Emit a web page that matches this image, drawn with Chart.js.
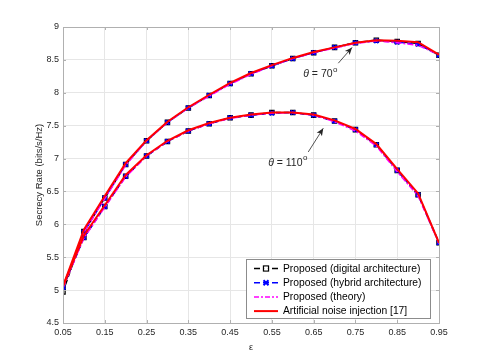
<!DOCTYPE html>
<html><head><meta charset="utf-8">
<script src="https://cdn.jsdelivr.net/npm/chart.js@4.4.1/dist/chart.umd.min.js"></script>
<style>html,body{margin:0;padding:0;background:#fff}#wrap{width:485px;height:363px}</style>
</head><body><div id="wrap"><canvas id="c" width="485" height="363"></canvas></div>
<script>
const epsilon = [0.05,0.10,0.15,0.20,0.25,0.30,0.35,0.40,0.45,0.50,0.55,0.60,0.65,0.70,0.75,0.80,0.85,0.90,0.95];
const xTicks = [0.05,0.15,0.25,0.35,0.45,0.55,0.65,0.75,0.85,0.95];
const xTickLabels = ['0.05','0.15','0.25','0.35','0.45','0.55','0.65','0.75','0.85','0.95'];
const yTicks = [4.5,5,5.5,6,6.5,7,7.5,8,8.5,9];
const yTickLabels = ['4.5','5','5.5','6','6.5','7','7.5','8','8.5','9'];
// theta = 70 deg
const digital70 = [4.97,5.89,6.40,6.91,7.27,7.55,7.77,7.96,8.14,8.29,8.41,8.52,8.61,8.69,8.76,8.80,8.78,8.75,8.57];
const hybrid70  = [5.04,5.88,6.40,6.91,7.27,7.55,7.77,7.96,8.14,8.29,8.41,8.52,8.61,8.69,8.76,8.79,8.77,8.74,8.57];
const theory70  = [5.04,5.88,6.39,6.90,7.27,7.55,7.77,7.95,8.13,8.28,8.41,8.52,8.61,8.68,8.75,8.79,8.76,8.72,8.58];
const an70      = [5.06,5.92,6.43,6.93,7.28,7.56,7.78,7.97,8.15,8.30,8.42,8.53,8.62,8.69,8.76,8.80,8.79,8.77,8.58];
// theta = 110 deg
const digital110 = [5.04,5.80,6.27,6.73,7.04,7.26,7.42,7.53,7.62,7.66,7.70,7.70,7.66,7.57,7.44,7.21,6.82,6.45,5.72];
const hybrid110  = [5.05,5.80,6.27,6.73,7.04,7.26,7.42,7.53,7.62,7.66,7.69,7.70,7.66,7.57,7.44,7.21,6.82,6.45,5.72];
const theory110  = [5.04,5.79,6.26,6.72,7.04,7.26,7.42,7.53,7.61,7.66,7.69,7.70,7.66,7.56,7.42,7.19,6.80,6.43,5.71];
const an110      = [5.06,5.83,6.29,6.75,7.05,7.27,7.43,7.54,7.62,7.67,7.70,7.70,7.67,7.58,7.45,7.22,6.84,6.47,5.72];
const legendLabels = ['Proposed (digital architecture)','Proposed (hybrid architecture)','Proposed (theory)','Artificial noise injection [17]'];
const annotations = [
  {text:'70', x:0.625, y:8.28, ax0:0.709, ay0:8.45, ax1:0.742, ay1:8.69},
  {text:'110', x:0.541, y:6.93, ax0:0.637, ay0:7.10, ax1:0.673, ay1:7.46}
];

const pts = arr => arr.map((v,i)=>({x:epsilon[i], y:v}));
const styles = [
  {color:'#000000', width:1.5, dash:[5,3], point:'rect', pr:3, pbw:1.3, order:3},
  {color:'#0000ff', width:1.5, dash:[5,3], point:'crossRot', pr:3, pbw:2, order:2},
  {color:'#ff00ff', width:1.5, dash:[6,2,2,2], point:false, pr:0, pbw:0, order:1},
  {color:'#ff0000', width:2, dash:[], point:false, pr:0, pbw:0, order:0}
];
const groups = [[digital70,digital110],[hybrid70,hybrid110],[theory70,theory110],[an70,an110]];
const datasets = [];
groups.forEach((g,k)=>{
  const s = styles[k];
  g.forEach(arr=>{
    datasets.push({
      label: legendLabels[k], data: pts(arr), borderColor: s.color, borderWidth: s.width,
      borderDash: s.dash, pointStyle: s.point || 'circle', pointRadius: s.pr,
      pointBorderColor: s.color, pointBackgroundColor: 'rgba(0,0,0,0)', pointBorderWidth: s.pbw,
      fill:false, tension:0, order:s.order
    });
  });
});

const FONT = '"Liberation Sans", Arial, sans-serif';

const overlay = {
  id:'overlay',
  afterDraw(chart){
    const {ctx, chartArea:a, scales:{x,y}} = chart;
    ctx.save();
    // box
    ctx.strokeStyle = '#b0b0b0'; ctx.lineWidth = 1;
    ctx.strokeRect(Math.round(a.left)+0.5, Math.round(a.top)+0.5, Math.round(a.right-a.left), Math.round(a.bottom-a.top));
    // inward ticks
    ctx.beginPath();
    xTicks.forEach(v=>{ const px = Math.round(x.getPixelForValue(v))+0.5; ctx.moveTo(px,a.bottom); ctx.lineTo(px,a.bottom-3); ctx.moveTo(px,a.top); ctx.lineTo(px,a.top+3); });
    yTicks.forEach(v=>{ const py = Math.round(y.getPixelForValue(v))+0.5; ctx.moveTo(a.left,py); ctx.lineTo(a.left+3,py); ctx.moveTo(a.right,py); ctx.lineTo(a.right-3,py); });
    ctx.stroke();
    // annotations
    ctx.fillStyle = '#262626'; ctx.strokeStyle = '#262626';
    annotations.forEach(an=>{
      let px = x.getPixelForValue(an.x), py = y.getPixelForValue(an.y);
      ctx.font = 'italic 10.5px ' + FONT; ctx.textBaseline = 'middle'; ctx.textAlign = 'left';
      ctx.fillText('\u03b8', px, py); px += ctx.measureText('\u03b8').width;
      ctx.font = '10.5px ' + FONT;
      const t = ' = ' + an.text; ctx.fillText(t, px, py); px += ctx.measureText(t).width;
      ctx.font = '8px ' + FONT; ctx.fillText('o', px + 0.5, py - 5);
      const x0 = x.getPixelForValue(an.ax0), y0 = y.getPixelForValue(an.ay0);
      const x1 = x.getPixelForValue(an.ax1), y1 = y.getPixelForValue(an.ay1);
      ctx.lineWidth = 0.8; ctx.beginPath(); ctx.moveTo(x0,y0); ctx.lineTo(x1,y1); ctx.stroke();
      const ang = Math.atan2(y1-y0, x1-x0), L = 8, W = 0.4;
      ctx.beginPath(); ctx.moveTo(x1,y1);
      ctx.lineTo(x1 - L*Math.cos(ang-W), y1 - L*Math.sin(ang-W));
      ctx.lineTo(x1 - L*0.7*Math.cos(ang), y1 - L*0.7*Math.sin(ang));
      ctx.lineTo(x1 - L*Math.cos(ang+W), y1 - L*Math.sin(ang+W));
      ctx.closePath(); ctx.fill();
    });
    // legend
    const lx = 246, ly = 259, lw = 184, lh = 59;
    ctx.fillStyle = '#ffffff'; ctx.fillRect(lx, ly, lw, lh);
    ctx.strokeStyle = '#8c8c8c'; ctx.lineWidth = 1; ctx.strokeRect(lx+0.5, ly+0.5, lw, lh);
    ctx.font = '10.3px ' + FONT; ctx.textBaseline = 'middle'; ctx.textAlign = 'left';
    legendLabels.forEach((lab,k)=>{
      const s = styles[k]; const ry = ly + 9.5 + k*14.2;
      ctx.strokeStyle = s.color; ctx.lineWidth = s.width; ctx.setLineDash(s.dash.length? (k===2?[5,2,2,2]:[6,3]) : []);
      ctx.beginPath(); ctx.moveTo(lx+8, ry); ctx.lineTo(lx+32, ry); ctx.stroke(); ctx.setLineDash([]);
      if (k===0){ ctx.lineWidth=1.3; ctx.strokeRect(lx+17.5, ry-2.5, 5, 5); ctx.fillStyle='#fff'; ctx.fillRect(lx+18.2,ry-1.8,3.6,3.6); }
      if (k===1){ ctx.lineWidth=2; ctx.beginPath(); ctx.moveTo(lx+17.5,ry-2.5); ctx.lineTo(lx+22.5,ry+2.5); ctx.moveTo(lx+22.5,ry-2.5); ctx.lineTo(lx+17.5,ry+2.5); ctx.stroke(); }
      ctx.fillStyle = '#000'; ctx.fillText(lab, lx + 37, ry + 0.5);
    });
    ctx.restore();
  }
};

new Chart(document.getElementById('c'), {
  type:'line',
  data:{datasets},
  options:{
    responsive:false, animation:false, devicePixelRatio:1,
    layout:{padding:{left:34, right:46, top:27, bottom:10}},
    plugins:{legend:{display:false}, tooltip:{enabled:false}},
    scales:{
      x:{type:'linear', min:0.05, max:0.95,
        afterBuildTicks: s=>{ s.ticks = xTicks.map(v=>({value:v})); },
        afterFit: s=>{ s.height = 30; },
        ticks:{color:'#262626', font:{family:FONT, size:9}, padding:4, maxRotation:0, autoSkip:false,
          callback:(v)=>{ const i = xTicks.findIndex(t=>Math.abs(t-v)<1e-9); return i>=0?xTickLabels[i]:''; }},
        grid:{color:'#e6e6e6', lineWidth:1, drawTicks:false},
        border:{color:'#b0b0b0'},
        title:{display:true, text:'\u03b5', color:'#262626', font:{family:FONT, size:9}, padding:{top:0,bottom:0}}
      },
      y:{min:4.5, max:9,
        afterBuildTicks: s=>{ s.ticks = yTicks.map(v=>({value:v})); },
        afterFit: s=>{ s.width = 29; },
        ticks:{color:'#262626', font:{family:FONT, size:9}, padding:4,
          callback:(v)=>{ const i = yTicks.findIndex(t=>Math.abs(t-v)<1e-9); return i>=0?yTickLabels[i]:''; }},
        grid:{color:'#e6e6e6', lineWidth:1, drawTicks:false},
        border:{color:'#b0b0b0'},
        title:{display:true, text:'Secrecy Rate (bits/s/Hz)', color:'#262626', font:{family:FONT, size:9.5}, padding:{top:0,bottom:0}}
      }
    }
  },
  plugins:[overlay]
});
</script></body></html>
